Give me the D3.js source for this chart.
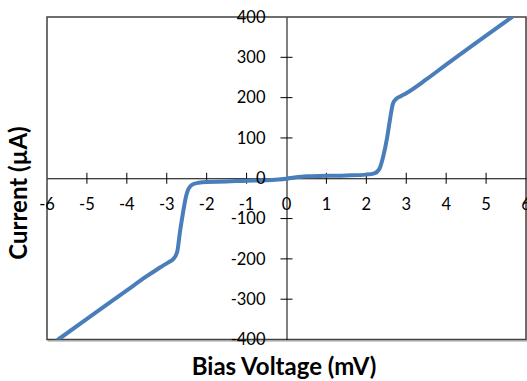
<!DOCTYPE html>
<html>
<head>
<meta charset="utf-8">
<script src="https://cdn.jsdelivr.net/npm/d3@7.9.0/dist/d3.min.js"></script>
<style>
  body { margin: 0; background: #fff; }
  svg { display: block; font-family: Lato, "DejaVu Sans", sans-serif; }
  .tick-label { font-size: 16.5px; fill: #000; }
  .axis-title { font-size: 24px; font-weight: bold; fill: #000; }
</style>
</head>
<body>
<svg id="chart" width="527" height="381"></svg>
<script>
// I-V curve
const voltage = [-5.72, -5, -4, -3.5, -3.18, -2.95, -2.84, -2.74, -2.67, -2.59, -2.51, -2.38, -2.2, -2,
  -1.5, -1, -0.5, -0.2, 0, 0.2, 0.5, 1, 1.5, 2, 2.2, 2.32, 2.42, 2.52, 2.59, 2.67, 2.75, 2.85, 3.0, 3.5, 4, 5, 5.65];
const current = [-400, -349, -278, -243, -222, -208, -201, -183, -134, -84, -42, -17, -11, -9,
  -8, -6, -5, -3, -1, 2, 5, 6, 7, 9, 12, 22, 53, 100, 144, 186, 197, 203, 211, 245, 282, 354, 400];

const xTicks = [-6, -5, -4, -3, -2, -1, 0, 1, 2, 3, 4, 5, 6];
const yTicks = [-400, -300, -200, -100, 0, 100, 200, 300, 400];

const svg = d3.select('#chart');
const plotLeft = 47, plotRight = 526, plotTop = 17, plotBottom = 339.5;

let x = d3.scaleLinear().domain([-6, 6]).range([plotLeft, plotRight]);
let y = d3.scaleLinear().domain([-400, 400]).range([plotBottom, plotTop]);

// frame with a faint shadow
svg.append('rect')
  .attr('x', plotLeft + 1.5).attr('y', plotTop + 1.5)
  .attr('width', plotRight - plotLeft).attr('height', plotBottom - plotTop)
  .attr('fill', 'none').attr('stroke', '#bbb').attr('stroke-width', 1.5);
svg.append('rect')
  .attr('x', plotLeft).attr('y', plotTop)
  .attr('width', plotRight - plotLeft).attr('height', plotBottom - plotTop)
  .attr('fill', '#fff').attr('stroke', '#404040').attr('stroke-width', 1.5);

// axes through the origin
let xAxis = d3.axisBottom(x).tickValues(xTicks).tickSize(0).tickFormat('');
let yAxis = d3.axisLeft(y).tickValues(yTicks).tickSize(0).tickFormat('');

svg.append('g').attr('transform', `translate(0,${y(0)})`).call(xAxis)
  .call(g => g.select('.domain').attr('stroke', '#000'));
svg.append('g').attr('transform', `translate(${x(0)},0)`).call(yAxis)
  .call(g => g.select('.domain').attr('stroke', '#000'));

// cross tick marks
svg.append('g').selectAll('line')
  .data(xTicks.filter(d => d !== 0 && Math.abs(d) !== 6))
  .join('line')
  .attr('x1', d => x(d)).attr('x2', d => x(d))
  .attr('y1', y(0) - 5.5).attr('y2', y(0) + 5.5)
  .attr('stroke', '#000');
svg.append('g').selectAll('line')
  .data(yTicks.filter(d => d !== 0 && Math.abs(d) !== 400))
  .join('line')
  .attr('x1', x(0) - 6).attr('x2', x(0) + 6)
  .attr('y1', d => y(d)).attr('y2', d => y(d))
  .attr('stroke', '#000');

// data line
let points = voltage.map((v, i) => [v, current[i]]);
let line = d3.line()
  .x(d => x(d[0]))
  .y(d => y(d[1]))
  .curve(d3.curveMonotoneX);

svg.append('clipPath').attr('id', 'plot-clip')
  .append('rect').attr('x', plotLeft).attr('y', plotTop)
  .attr('width', plotRight - plotLeft).attr('height', plotBottom - plotTop);

svg.append('path')
  .datum(points)
  .attr('clip-path', 'url(#plot-clip)')
  .attr('d', line)
  .attr('fill', 'none')
  .attr('stroke', '#4a7ebb')
  .attr('stroke-width', 4)
  .attr('stroke-linejoin', 'round')
  .attr('stroke-linecap', 'round');

// tick labels
svg.append('g').selectAll('text')
  .data(xTicks)
  .join('text')
  .attr('class', 'tick-label')
  .attr('x', d => x(d))
  .attr('y', y(0) + 32)
  .attr('text-anchor', 'middle')
  .text(d => d);

svg.append('g').selectAll('text')
  .data(yTicks)
  .join('text')
  .attr('class', 'tick-label')
  .attr('x', x(0) - 21)
  .attr('y', d => y(d))
  .attr('dy', '0.35em')
  .attr('text-anchor', 'end')
  .text(d => d);

// axis titles
svg.append('text')
  .attr('class', 'axis-title')
  .attr('x', 284)
  .attr('y', 375)
  .attr('text-anchor', 'middle')
  .text('Bias Voltage (mV)');

svg.append('text')
  .attr('class', 'axis-title')
  .attr('transform', 'translate(27,193) rotate(-90)')
  .attr('text-anchor', 'middle')
  .text('Current (µA)');
</script>
</body>
</html>
